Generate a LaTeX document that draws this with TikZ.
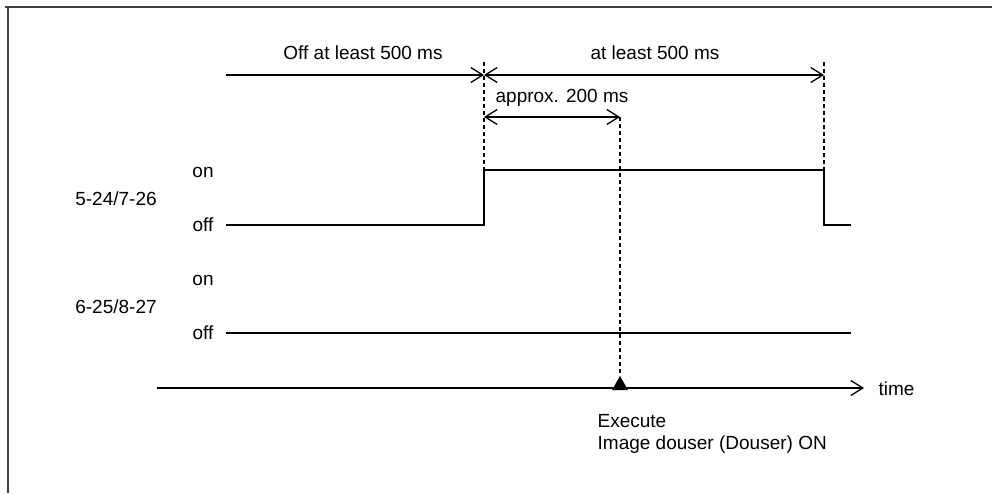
\documentclass[tikz,border=0pt]{standalone}
\usepackage{fontspec}
\setmainfont{Liberation Sans}
\usetikzlibrary{arrows.meta}
\begin{document}
\begin{tikzpicture}[x=1pt,y=-1pt, line width=1.3pt,
  font=\fontsize{19}{22}\selectfont,
  >={Straight Barb[length=12pt,width=15pt]},
  guide/.style={line width=1.1pt, dash pattern=on 4pt off 3pt},
  level/.style={inner sep=0pt, anchor=center}]
\useasboundingbox (0,0) rectangle (992,493);
% frame
\draw[line width=1.6pt, black!75] (5,7) -- (992,7);
\draw[line width=1.6pt, black!75] (8,7) -- (8,493);
% time marks
\coordinate (start) at (226,75);
\coordinate (rise) at (484,75);
\coordinate (fall) at (824,75);
\coordinate (approxl) at (484,117);
\coordinate (approxr) at (620,117);
\node (offlabel) at (363,53) {Off at least 500 ms};
\node (onlabel) at (655,53) {at least 500 ms};
\node (approxlabel) at (562,98) {approx. 200 ms};
\draw[->] (start) -- (rise);
\draw[<->] (rise) -- (fall);
\draw[<->] (approxl) -- (approxr);
\draw[guide] (484,62) -- (484,170);
\draw[guide] (824,62) -- (824,170);
% signal 5-24/7-26
\node (sigA) at (116,199) {5-24/7-26};
\node[level] (sigAon) at (203,172) {on};
\node[level] (sigAoff) at (203,225) {off};
\draw (226,225) -- (484,225) -- (484,170) -- (824,170) -- (824,225) -- (851,225);
% signal 6-25/8-27
\node (sigB) at (116,307) {6-25/8-27};
\node[level] (sigBon) at (203,280) {on};
\node[level] (sigBoff) at (203,333) {off};
\draw (226,333) -- (851,333);
% time axis
\coordinate (axis) at (157,388);
\coordinate (axisend) at (864,388);
\node[anchor=west, inner sep=0pt] (time) at (878,389) {time};
\draw[->] (axis) -- (axisend);
% execute
\coordinate (exec) at (620,376);
\draw[guide] (approxr) -- (exec);
\fill (exec) -- (628,390) -- (612,390) -- cycle;
\node[anchor=west, align=left, inner sep=0pt] (execlabel) at (597,434)
  {Execute\\Image douser (Douser) ON};
\end{tikzpicture}
\end{document}
